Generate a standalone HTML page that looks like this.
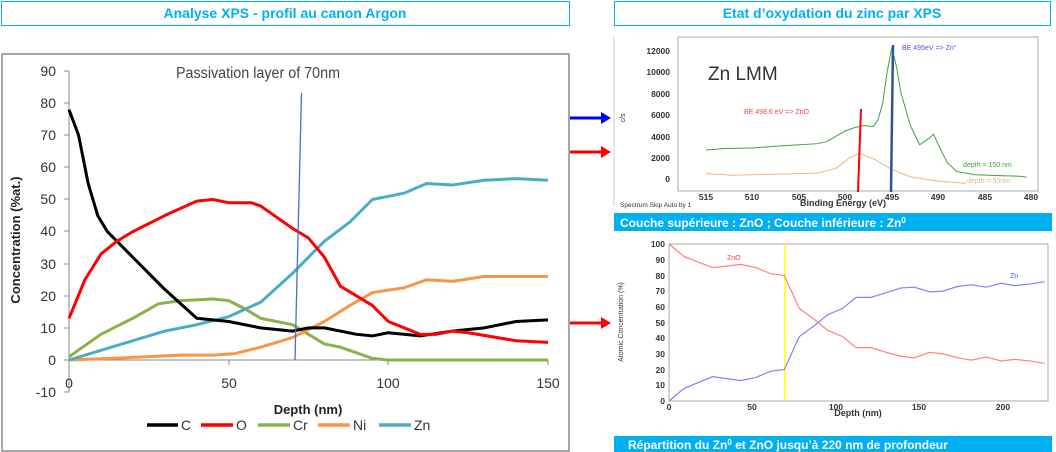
<!DOCTYPE html>
<html><head><meta charset="utf-8"><style>
body{margin:0;width:1056px;height:452px;background:#fff;overflow:hidden;font-family:"Liberation Sans",sans-serif}
svg{position:absolute;left:0;top:0}
</style></head><body>
<svg width="1056" height="452" viewBox="0 0 1056 452" font-family="Liberation Sans, sans-serif">
<rect x="1.5" y="1.5" width="568" height="24" fill="#fff" stroke="#00b0f0"/>
<text x="285" y="18" text-anchor="middle" font-size="14" font-weight="bold" fill="#00b0f0">Analyse XPS - profil au canon Argon</text>
<rect x="614.5" y="1.5" width="436" height="24" fill="#fff" stroke="#00b0f0"/>
<text x="832" y="18" text-anchor="middle" font-size="14" font-weight="bold" fill="#00b0f0">Etat d’oxydation du zinc par XPS</text>
<rect x="2" y="54" width="567" height="397" fill="#fff" stroke="#888" stroke-width="1.5"/>
<g stroke="#888" stroke-width="1">
<line x1="69" y1="71" x2="69" y2="392"/>
<line x1="69" y1="360" x2="548" y2="360"/>
<line x1="64" y1="71" x2="69" y2="71"/><line x1="64" y1="103" x2="69" y2="103"/><line x1="64" y1="135" x2="69" y2="135"/><line x1="64" y1="167" x2="69" y2="167"/><line x1="64" y1="199" x2="69" y2="199"/><line x1="64" y1="231" x2="69" y2="231"/><line x1="64" y1="264" x2="69" y2="264"/><line x1="64" y1="296" x2="69" y2="296"/><line x1="64" y1="328" x2="69" y2="328"/><line x1="64" y1="360" x2="69" y2="360"/><line x1="64" y1="392" x2="69" y2="392"/>
<line x1="229" y1="360" x2="229" y2="365"/><line x1="388" y1="360" x2="388" y2="365"/><line x1="548" y1="360" x2="548" y2="365"/>
</g>
<g font-size="14" fill="#333" text-anchor="end">
<text x="56" y="76">90</text><text x="56" y="108">80</text><text x="56" y="140">70</text><text x="56" y="172">60</text><text x="56" y="204">50</text><text x="56" y="236">40</text><text x="56" y="269">30</text><text x="56" y="301">20</text><text x="56" y="333">10</text><text x="56" y="365">0</text><text x="56" y="397">-10</text>
</g>
<g font-size="14" fill="#333" text-anchor="middle">
<text x="69" y="388">0</text><text x="229" y="388">50</text><text x="388" y="388">100</text><text x="548" y="388">150</text>
</g>
<text x="258" y="78" text-anchor="middle" font-size="15.5" fill="#444" textLength="164" lengthAdjust="spacingAndGlyphs">Passivation layer of 70nm</text>
<text x="308" y="414" text-anchor="middle" font-size="13" font-weight="bold" fill="#222">Depth (nm)</text>
<text transform="translate(20,240) rotate(-90)" text-anchor="middle" font-size="13" font-weight="bold" fill="#222">Concentration (%at.)</text>
<g transform="translate(69,360) scale(3.193,-3.21)" fill="none" stroke-width="3" stroke-linejoin="round">
<polyline vector-effect="non-scaling-stroke" stroke="#8db04a" points="0,1 10,8 20,13 28,17.5 35,18.5 45,19 50,18.5 55,16 60,13 70,11 75,8 80,5 85,4 95,0.5 100,0 150,0"/>
<polyline vector-effect="non-scaling-stroke" stroke="#f79646" points="0,0 20,0.8 35,1.5 45,1.5 52,2 60,4 70,7 80,12 88,17 95,21 105,22.5 112,25 120,24.5 130,26 150,26"/>
<polyline vector-effect="non-scaling-stroke" stroke="#4bacc6" points="0,0 10,3 20,6 30,9 40,11 50,13.5 60,18 70,27 80,37 88,43 95,50 100,51 105,52 112,55 120,54.5 130,56 140,56.5 150,56"/>
<polyline vector-effect="non-scaling-stroke" stroke="#000" points="0,78 3,70 6,55 9,45 12,40 20,32 30,22 40,13 50,12 60,10 70,9 75,10 80,10 90,8 95,7.5 100,8.5 110,7.5 120,9 130,10 140,12 150,12.5"/>
<polyline vector-effect="non-scaling-stroke" stroke="#ff0000" points="0,13 5,25 10,33 15,37 20,40 30,45 40,49.5 45,50 50,49 57,49 60,48 70,41 75,38 80,32 85,23 90,20 95,17 100,12 110,8 115,8 120,9 125,8.5 140,6 150,5.5"/>
</g>
<line x1="301.5" y1="93" x2="295" y2="360" stroke="#4472c4" stroke-width="1.3"/>
<g stroke-width="3.5">
<line x1="147" y1="425" x2="178" y2="425" stroke="#000"/><line x1="201" y1="425" x2="233" y2="425" stroke="#f00"/><line x1="258" y1="425" x2="290" y2="425" stroke="#8db04a"/><line x1="318" y1="425" x2="350" y2="425" stroke="#f79646"/><line x1="379" y1="425" x2="411" y2="425" stroke="#4bacc6"/>
</g>
<g font-size="14" fill="#333"><text x="181" y="430">C</text><text x="236" y="430">O</text><text x="293" y="430">Cr</text><text x="353" y="430">Ni</text><text x="414" y="430">Zn</text></g>
<line x1="570" y1="118" x2="603" y2="118" stroke="#0000ff" stroke-width="3"/><polygon points="601,112 611,118 601,124" fill="#0000ff"/>
<line x1="570" y1="152" x2="603" y2="152" stroke="#f00" stroke-width="3"/><polygon points="601,146 611,152 601,158" fill="#f00"/>
<line x1="570" y1="323" x2="603" y2="323" stroke="#f00" stroke-width="3"/><polygon points="601,317 611,323 601,329" fill="#f00"/>
<line x1="614" y1="37" x2="614" y2="206" stroke="#ccc"/>
<rect x="678" y="37" width="360" height="154" fill="#fff" stroke="#aaa"/>
<g font-size="8.5" font-weight="bold" fill="#333" text-anchor="end">
<text x="670" y="54">12000</text><text x="670" y="75">10000</text><text x="670" y="97">8000</text><text x="670" y="118">6000</text><text x="670" y="140">4000</text><text x="670" y="161">2000</text><text x="670" y="182">0</text>
</g>
<g font-size="8.5" font-weight="bold" fill="#333" text-anchor="middle">
<text x="706" y="200">515</text><text x="752" y="200">510</text><text x="799" y="200">505</text><text x="845" y="200">500</text><text x="892" y="200">495</text><text x="938" y="200">490</text><text x="985" y="200">485</text><text x="1031" y="200">480</text>
</g>
<text x="843" y="206" text-anchor="middle" font-size="9" font-weight="bold" fill="#333">Binding Energy (eV)</text>
<text x="620" y="207" font-size="6.5" fill="#333">Spectrum Skip Auto by 1</text>
<text transform="translate(625,118) rotate(-90)" text-anchor="middle" font-size="7" fill="#333">c/s</text>
<text x="708" y="80" font-size="19" fill="#333">Zn LMM</text>
<g transform="translate(5490.35,179) scale(-9.29,-0.0107)" fill="none" stroke-width="1">
<polyline vector-effect="non-scaling-stroke" stroke="#3fa33f" points="515,2700 513,2850 510,2900 507,3100 503,3300 502,3500 500,4500 499,4800 498,5000 497,4900 496.5,5500 496,7000 495.5,10000 495,12300 494.5,10500 494,8000 493,5000 492,3200 491,3800 490.5,4200 490,3200 489,1500 488,700 486,400 483,300 481,250 480.5,150"/>
<polyline vector-effect="non-scaling-stroke" stroke="#f4b183" points="515,500 512,350 505,500 503,550 501,1000 499.5,2000 498.5,2400 497,1900 495,900 493,200 490,-200 487,-400"/>
</g>
<line x1="861" y1="109" x2="858" y2="192" stroke="#f00" stroke-width="2"/>
<line x1="893" y1="45" x2="891" y2="192" stroke="#2f5597" stroke-width="2.5"/>
<text x="902" y="50" font-size="7" fill="#5050ff">BE 495eV =&gt; Zn°</text>
<text x="744" y="114" font-size="7" fill="#ff4040">BE 498.6 eV =&gt; ZnO</text>
<text x="963" y="167" font-size="7" fill="#3fa33f">depth = 150 nm</text>
<text x="967" y="183" font-size="7" fill="#f4b183">depth = 50nm</text>
<rect x="614" y="213" width="438" height="18" fill="#00b0f0"/>
<text x="620" y="227" font-size="12" font-weight="bold" fill="#fff">Couche supérieure : ZnO ; Couche inférieure : Zn<tspan font-size="8" dy="-4">0</tspan></text>
<rect x="669" y="244" width="379" height="157" fill="#fff" stroke="#aaa"/>
<g font-size="8.5" font-weight="bold" fill="#333" text-anchor="end">
<text x="665" y="247">100</text><text x="665" y="263">90</text><text x="665" y="279">80</text><text x="665" y="294">70</text><text x="665" y="310">60</text><text x="665" y="326">50</text><text x="665" y="341">40</text><text x="665" y="357">30</text><text x="665" y="373">20</text><text x="665" y="388">10</text><text x="665" y="404">0</text>
</g>
<g font-size="8.5" font-weight="bold" fill="#333" text-anchor="middle">
<text x="669" y="410">0</text><text x="752" y="410">50</text><text x="836" y="410">100</text><text x="919" y="410">150</text><text x="1003" y="410">200</text>
</g>
<text x="858" y="416" text-anchor="middle" font-size="9" font-weight="bold" fill="#333">Depth (nm)</text>
<text transform="translate(623,322) rotate(-90)" text-anchor="middle" font-size="7" fill="#333">Atomic Concentration (%)</text>
<line x1="785" y1="244" x2="785" y2="401" stroke="#ffff00" stroke-width="1.5"/>
<g transform="translate(669,401) scale(1.67,-1.57)" fill="none">
<polyline vector-effect="non-scaling-stroke" stroke="#ff8080" stroke-width="1.2" points="0,100 9,92 26,85 35,86 43,87 52,85 61,81 69,80 78,59 87,52 95,45 104,41 112,34 121,34 130,31 139,28.5 147,27.5 156,31 164,30 173,27.5 181,26 190,28 199,25.5 207,26.5 216,25.5 225,24"/>
<polyline vector-effect="non-scaling-stroke" stroke="#8080ff" stroke-width="1.2" points="0,0 9,8 26,15.5 43,13 52,15 61,19 69,20 78,41 87,48 95,55 104,59 112,66 121,66 130,69 139,72 147,72.5 156,69.5 164,70 173,73 181,74 190,72.5 199,75 207,73.5 216,74.5 225,76"/>
</g>
<text x="727" y="260" font-size="7" fill="#ff4040">ZnO</text>
<text x="1010" y="278" font-size="7" fill="#5050ff">Zn</text>
<rect x="614" y="436" width="438" height="16" fill="#00b0f0"/>
<text x="628" y="449" font-size="12" font-weight="bold" fill="#fff">Répartition du Zn<tspan font-size="8" dy="-4">0</tspan><tspan dy="4"> et ZnO jusqu’à 220 nm de profondeur</tspan></text>
</svg>
</body></html>
